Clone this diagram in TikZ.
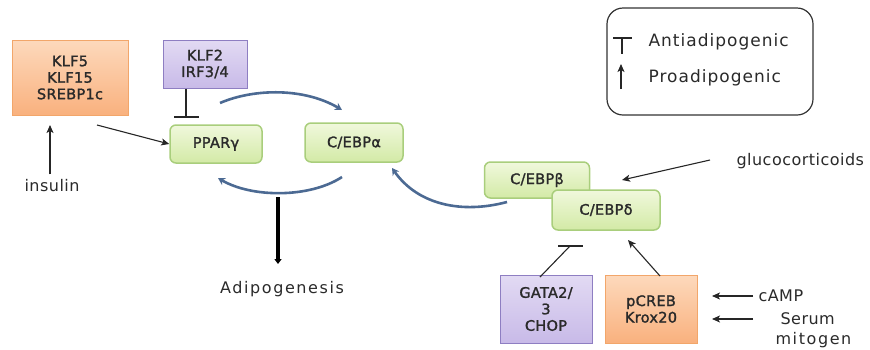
\documentclass[tikz,border=0pt]{standalone}
\usepackage{fontspec}
\setmainfont{DejaVu Sans}
\newfontfamily\wideA[LetterSpace=3]{DejaVu Sans}
\newfontfamily\wideB[LetterSpace=6]{DejaVu Sans}
\newfontfamily\wideC[LetterSpace=10]{DejaVu Sans}
\newfontfamily\boxfont[LetterSpace=2,FakeBold=1.6]{DejaVu Sans}
\usetikzlibrary{arrows.meta}
\definecolor{txt}{HTML}{2A2A2A}
\definecolor{orT}{HTML}{FDD9BC}
\definecolor{orB}{HTML}{F9B17E}
\definecolor{orD}{HTML}{F2A66A}
\definecolor{puT}{HTML}{E2DAF3}
\definecolor{puB}{HTML}{C8BAE8}
\definecolor{puD}{HTML}{8E7EC2}
\definecolor{grT}{HTML}{F0F8DC}
\definecolor{grB}{HTML}{D3EAA6}
\definecolor{grD}{HTML}{A9CE7C}
\definecolor{arc}{HTML}{4C6A93}
\tikzset{
  box/.style={draw, line width=1pt, align=center, text=txt, inner sep=0pt,
    font=\boxfont\fontsize{14.5}{16.5}\selectfont},
  orbox/.style={box, draw=orD, top color=orT, bottom color=orB},
  pubox/.style={box, draw=puD, top color=puT, bottom color=puB},
  grbox/.style={box, draw=grD, line width=1.5pt, top color=grT, bottom color=grB, rounded corners=6pt},
  lbl/.style={text=txt, font=\wideA\fontsize{16}{20}\selectfont, align=center},
  leg/.style={text=txt, font=\wideB\fontsize{17}{20}\selectfont, anchor=west},
  thin/.style={draw=black!85, line width=1.1pt},
  act/.style={thin, -{Stealth[length=8pt,width=7pt,inset=2pt]}},
  inh/.style={thin},
  cyc/.style={draw=arc, line width=2.6pt, -{Stealth[length=7pt,width=8pt]}}
}
\begin{document}
\begin{tikzpicture}[x=1pt,y=-1pt]
\useasboundingbox (0,0) rectangle (870,349);
% boxes
\node[orbox, minimum width=116pt, minimum height=75pt] (klf) at (70,77.5) {KLF5\\KLF15\\SREBP1c};
\node[pubox, minimum width=84pt, minimum height=48pt] (irf) at (205,64) {KLF2\\IRF3/4};
\node[grbox, minimum width=92pt, minimum height=38pt] (ppar) at (216,144) {PPARγ};
\node[grbox, minimum width=98pt, minimum height=39pt] (cebpa) at (354,142.5) {C/EBPα};
\node[grbox, minimum width=105pt, minimum height=36pt] (cebpb) at (537,180) {C/EBPβ};
\node[grbox, minimum width=108pt, minimum height=40pt] (cebpd) at (606,210) {C/EBPδ};
\node[pubox, minimum width=92pt, minimum height=68pt] (gata) at (546,309) {GATA2/\\3\\CHOP};
\node[orbox, minimum width=92pt, minimum height=68pt] (creb) at (651,309) {pCREB\\Krox20};
% labels
\node[lbl] (ins) at (52,186) {insulin};
\node[lbl, font=\wideC\fontsize{16}{20}\selectfont] (adipo) at (282,289) {Adipogenesis};
\node[lbl, anchor=west] (gluc) at (733,161) {glucocorticoids};
\node[lbl, anchor=west] (camp) at (755,296) {cAMP};
\node[lbl, anchor=west, align=left] (serum) at (772,330) {\hspace*{5pt}Serum\\{\wideC mitogen}};
% coordinates
\coordinate (insT) at (50,125);
\coordinate (klfA) at (97,125);
\coordinate (irfB) at (186,117);
\coordinate (topS) at (220,103);
\coordinate (topE) at (342,110);
\coordinate (botS) at (342,177);
\coordinate (botE) at (218,178);
\coordinate (bS) at (507,202);
\coordinate (aE) at (392,168);
\coordinate (adT) at (278,197);
\coordinate (adB) at (278,264);
\coordinate (glS) at (710,160);
\coordinate (glE) at (622,180);
\coordinate (gataT) at (540,277);
\coordinate (gataI) at (570,246);
\coordinate (crebT) at (660,276);
\coordinate (crebE) at (628,240);
\coordinate (campS) at (753,296);
\coordinate (campE) at (712,296);
\coordinate (serS) at (753,319);
\coordinate (serE) at (712,319);
% connectors
\draw[act] ([yshift=2pt]ins.north -| insT) -- (insT);
\draw[act] (klfA) -- (ppar.west);
\draw[inh] (irf.south -| irfB) -- (irfB);
\draw[inh] ([xshift=-12pt]irfB) -- ([xshift=13pt]irfB);
\draw[cyc] (topS) .. controls (255,88) and (305,88) .. (topE);
\draw[cyc] (botS) .. controls (310,198) and (252,198) .. (botE);
\draw[cyc] (bS) .. controls (462,214) and (418,205) .. (aE);
\draw[line width=4pt, -{Triangle[length=5pt,width=7pt]}] (adT) -- (adB);
\draw[act] (glS) -- (glE);
\draw[inh] (gataT) -- (gataI);
\draw[inh] ([xshift=-12pt]gataI) -- ([xshift=13pt]gataI);
\draw[act] (crebT) -- (crebE);
\draw[act] (campS) -- (campE);
\draw[act] (serS) -- (serE);
% legend
\node[draw=black!80, line width=1.2pt, rounded corners=16pt, minimum width=206pt, minimum height=107pt] (legend) at (710,61.5) {};
\coordinate (tL) at (613,38);
\coordinate (tR) at (632,38);
\coordinate (tM) at (622,38);
\coordinate (tB) at (622,54);
\draw[inh] (tL) -- (tR);
\draw[inh] (tM) -- (tB);
\coordinate (pB) at (621,89);
\coordinate (pT) at (621,64);
\draw[act] (pB) -- (pT);
\node[leg] (anti) at (645,42) {Antiadipogenic};
\node[leg] (pro) at (645,78) {Proadipogenic};
\end{tikzpicture}
\end{document}
